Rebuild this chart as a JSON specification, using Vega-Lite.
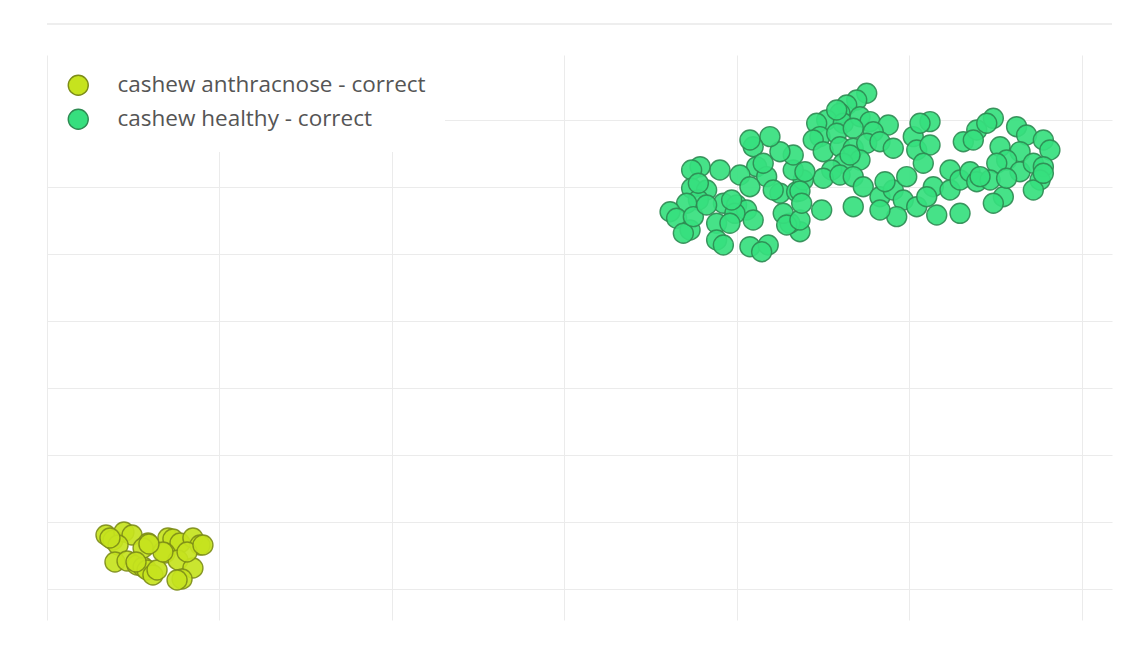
{
  "$schema": "https://vega.github.io/schema/vega-lite/v6.json",
  "width": 1065,
  "height": 565,
  "autosize": {"type": "none"},
  "padding": {"left": 47, "top": 55, "right": 10, "bottom": 40},
  "background": "white",
  "config": {"view": {"stroke": null}},
  "data": {"values": [
    {"x": 3.42, "y": 8.06, "label": "cashew anthracnose - correct"},
    {"x": 3.83, "y": 7.31, "label": "cashew anthracnose - correct"},
    {"x": 4.46, "y": 8.51, "label": "cashew anthracnose - correct"},
    {"x": 4.93, "y": 8.06, "label": "cashew anthracnose - correct"},
    {"x": 4.12, "y": 6.57, "label": "cashew anthracnose - correct"},
    {"x": 3.94, "y": 4.03, "label": "cashew anthracnose - correct"},
    {"x": 4.64, "y": 4.18, "label": "cashew anthracnose - correct"},
    {"x": 5.22, "y": 3.58, "label": "cashew anthracnose - correct"},
    {"x": 5.57, "y": 3.28, "label": "cashew anthracnose - correct"},
    {"x": 5.86, "y": 6.87, "label": "cashew anthracnose - correct"},
    {"x": 5.80, "y": 2.84, "label": "cashew anthracnose - correct"},
    {"x": 6.14, "y": 2.09, "label": "cashew anthracnose - correct"},
    {"x": 7.01, "y": 7.61, "label": "cashew anthracnose - correct"},
    {"x": 7.30, "y": 7.46, "label": "cashew anthracnose - correct"},
    {"x": 7.71, "y": 6.87, "label": "cashew anthracnose - correct"},
    {"x": 6.84, "y": 5.37, "label": "cashew anthracnose - correct"},
    {"x": 7.59, "y": 4.33, "label": "cashew anthracnose - correct"},
    {"x": 8.46, "y": 7.61, "label": "cashew anthracnose - correct"},
    {"x": 8.87, "y": 6.57, "label": "cashew anthracnose - correct"},
    {"x": 8.46, "y": 3.13, "label": "cashew anthracnose - correct"},
    {"x": 7.83, "y": 1.49, "label": "cashew anthracnose - correct"},
    {"x": 6.38, "y": 2.84, "label": "cashew anthracnose - correct"},
    {"x": 5.57, "y": 6.12, "label": "cashew anthracnose - correct"},
    {"x": 8.12, "y": 5.52, "label": "cashew anthracnose - correct"},
    {"x": 9.04, "y": 6.57, "label": "cashew anthracnose - correct"},
    {"x": 6.72, "y": 5.52, "label": "cashew anthracnose - correct"},
    {"x": 5.91, "y": 6.72, "label": "cashew anthracnose - correct"},
    {"x": 5.16, "y": 4.03, "label": "cashew anthracnose - correct"},
    {"x": 7.54, "y": 1.34, "label": "cashew anthracnose - correct"},
    {"x": 3.65, "y": 7.61, "label": "cashew anthracnose - correct"},
    {"x": 47.52, "y": 73.99, "label": "cashew healthy - correct"},
    {"x": 46.94, "y": 72.99, "label": "cashew healthy - correct"},
    {"x": 46.36, "y": 72.24, "label": "cashew healthy - correct"},
    {"x": 45.97, "y": 71.00, "label": "cashew healthy - correct"},
    {"x": 45.20, "y": 70.00, "label": "cashew healthy - correct"},
    {"x": 44.62, "y": 69.51, "label": "cashew healthy - correct"},
    {"x": 46.16, "y": 69.51, "label": "cashew healthy - correct"},
    {"x": 47.13, "y": 70.49, "label": "cashew healthy - correct"},
    {"x": 47.71, "y": 69.75, "label": "cashew healthy - correct"},
    {"x": 48.77, "y": 69.25, "label": "cashew healthy - correct"},
    {"x": 44.81, "y": 67.51, "label": "cashew healthy - correct"},
    {"x": 45.78, "y": 68.01, "label": "cashew healthy - correct"},
    {"x": 46.74, "y": 68.76, "label": "cashew healthy - correct"},
    {"x": 47.90, "y": 68.25, "label": "cashew healthy - correct"},
    {"x": 44.42, "y": 67.01, "label": "cashew healthy - correct"},
    {"x": 45.00, "y": 65.27, "label": "cashew healthy - correct"},
    {"x": 45.97, "y": 66.01, "label": "cashew healthy - correct"},
    {"x": 46.74, "y": 65.78, "label": "cashew healthy - correct"},
    {"x": 47.52, "y": 66.52, "label": "cashew healthy - correct"},
    {"x": 48.29, "y": 66.76, "label": "cashew healthy - correct"},
    {"x": 49.06, "y": 65.78, "label": "cashew healthy - correct"},
    {"x": 47.13, "y": 64.03, "label": "cashew healthy - correct"},
    {"x": 46.16, "y": 63.54, "label": "cashew healthy - correct"},
    {"x": 45.49, "y": 62.54, "label": "cashew healthy - correct"},
    {"x": 45.00, "y": 61.30, "label": "cashew healthy - correct"},
    {"x": 45.97, "y": 61.79, "label": "cashew healthy - correct"},
    {"x": 46.74, "y": 61.54, "label": "cashew healthy - correct"},
    {"x": 47.32, "y": 60.04, "label": "cashew healthy - correct"},
    {"x": 48.29, "y": 58.55, "label": "cashew healthy - correct"},
    {"x": 49.06, "y": 59.55, "label": "cashew healthy - correct"},
    {"x": 49.84, "y": 61.54, "label": "cashew healthy - correct"},
    {"x": 49.64, "y": 58.06, "label": "cashew healthy - correct"},
    {"x": 50.42, "y": 57.06, "label": "cashew healthy - correct"},
    {"x": 49.26, "y": 55.57, "label": "cashew healthy - correct"},
    {"x": 48.29, "y": 56.57, "label": "cashew healthy - correct"},
    {"x": 46.74, "y": 57.06, "label": "cashew healthy - correct"},
    {"x": 44.91, "y": 56.57, "label": "cashew healthy - correct"},
    {"x": 43.65, "y": 53.33, "label": "cashew healthy - correct"},
    {"x": 43.07, "y": 54.58, "label": "cashew healthy - correct"},
    {"x": 42.68, "y": 56.07, "label": "cashew healthy - correct"},
    {"x": 42.49, "y": 59.06, "label": "cashew healthy - correct"},
    {"x": 43.46, "y": 59.30, "label": "cashew healthy - correct"},
    {"x": 43.84, "y": 61.04, "label": "cashew healthy - correct"},
    {"x": 43.26, "y": 62.54, "label": "cashew healthy - correct"},
    {"x": 43.26, "y": 64.78, "label": "cashew healthy - correct"},
    {"x": 42.49, "y": 65.27, "label": "cashew healthy - correct"},
    {"x": 41.91, "y": 67.51, "label": "cashew healthy - correct"},
    {"x": 40.94, "y": 66.01, "label": "cashew healthy - correct"},
    {"x": 40.75, "y": 67.01, "label": "cashew healthy - correct"},
    {"x": 41.14, "y": 63.03, "label": "cashew healthy - correct"},
    {"x": 41.72, "y": 61.54, "label": "cashew healthy - correct"},
    {"x": 40.17, "y": 61.79, "label": "cashew healthy - correct"},
    {"x": 40.75, "y": 60.04, "label": "cashew healthy - correct"},
    {"x": 42.10, "y": 59.55, "label": "cashew healthy - correct"},
    {"x": 41.52, "y": 63.54, "label": "cashew healthy - correct"},
    {"x": 39.01, "y": 62.54, "label": "cashew healthy - correct"},
    {"x": 37.86, "y": 63.03, "label": "cashew healthy - correct"},
    {"x": 37.37, "y": 62.54, "label": "cashew healthy - correct"},
    {"x": 37.37, "y": 59.81, "label": "cashew healthy - correct"},
    {"x": 38.24, "y": 59.55, "label": "cashew healthy - correct"},
    {"x": 37.76, "y": 58.06, "label": "cashew healthy - correct"},
    {"x": 37.08, "y": 57.57, "label": "cashew healthy - correct"},
    {"x": 36.12, "y": 56.31, "label": "cashew healthy - correct"},
    {"x": 36.50, "y": 55.33, "label": "cashew healthy - correct"},
    {"x": 37.28, "y": 53.58, "label": "cashew healthy - correct"},
    {"x": 36.89, "y": 53.09, "label": "cashew healthy - correct"},
    {"x": 37.47, "y": 55.57, "label": "cashew healthy - correct"},
    {"x": 38.82, "y": 54.58, "label": "cashew healthy - correct"},
    {"x": 39.21, "y": 57.57, "label": "cashew healthy - correct"},
    {"x": 38.24, "y": 57.31, "label": "cashew healthy - correct"},
    {"x": 39.98, "y": 57.31, "label": "cashew healthy - correct"},
    {"x": 40.56, "y": 56.57, "label": "cashew healthy - correct"},
    {"x": 40.94, "y": 55.07, "label": "cashew healthy - correct"},
    {"x": 39.88, "y": 56.07, "label": "cashew healthy - correct"},
    {"x": 39.59, "y": 54.58, "label": "cashew healthy - correct"},
    {"x": 38.82, "y": 52.09, "label": "cashew healthy - correct"},
    {"x": 39.21, "y": 51.34, "label": "cashew healthy - correct"},
    {"x": 40.75, "y": 51.09, "label": "cashew healthy - correct"},
    {"x": 41.81, "y": 51.34, "label": "cashew healthy - correct"},
    {"x": 42.88, "y": 54.33, "label": "cashew healthy - correct"},
    {"x": 43.65, "y": 55.07, "label": "cashew healthy - correct"},
    {"x": 43.65, "y": 59.40, "label": "cashew healthy - correct"},
    {"x": 50.22, "y": 67.51, "label": "cashew healthy - correct"},
    {"x": 51.19, "y": 69.75, "label": "cashew healthy - correct"},
    {"x": 50.61, "y": 69.51, "label": "cashew healthy - correct"},
    {"x": 50.42, "y": 65.52, "label": "cashew healthy - correct"},
    {"x": 51.19, "y": 66.27, "label": "cashew healthy - correct"},
    {"x": 50.80, "y": 63.54, "label": "cashew healthy - correct"},
    {"x": 51.38, "y": 60.04, "label": "cashew healthy - correct"},
    {"x": 52.35, "y": 62.54, "label": "cashew healthy - correct"},
    {"x": 52.35, "y": 59.55, "label": "cashew healthy - correct"},
    {"x": 52.93, "y": 61.04, "label": "cashew healthy - correct"},
    {"x": 53.51, "y": 62.28, "label": "cashew healthy - correct"},
    {"x": 53.90, "y": 60.79, "label": "cashew healthy - correct"},
    {"x": 53.12, "y": 66.76, "label": "cashew healthy - correct"},
    {"x": 53.90, "y": 68.51, "label": "cashew healthy - correct"},
    {"x": 54.86, "y": 70.25, "label": "cashew healthy - correct"},
    {"x": 54.48, "y": 69.51, "label": "cashew healthy - correct"},
    {"x": 53.70, "y": 67.01, "label": "cashew healthy - correct"},
    {"x": 55.25, "y": 66.01, "label": "cashew healthy - correct"},
    {"x": 56.21, "y": 69.00, "label": "cashew healthy - correct"},
    {"x": 56.79, "y": 67.76, "label": "cashew healthy - correct"},
    {"x": 57.76, "y": 67.01, "label": "cashew healthy - correct"},
    {"x": 58.14, "y": 65.52, "label": "cashew healthy - correct"},
    {"x": 56.41, "y": 65.27, "label": "cashew healthy - correct"},
    {"x": 55.63, "y": 64.03, "label": "cashew healthy - correct"},
    {"x": 55.06, "y": 63.54, "label": "cashew healthy - correct"},
    {"x": 56.41, "y": 62.28, "label": "cashew healthy - correct"},
    {"x": 57.18, "y": 63.54, "label": "cashew healthy - correct"},
    {"x": 57.76, "y": 63.03, "label": "cashew healthy - correct"},
    {"x": 57.57, "y": 61.04, "label": "cashew healthy - correct"},
    {"x": 57.18, "y": 59.55, "label": "cashew healthy - correct"},
    {"x": 55.44, "y": 58.55, "label": "cashew healthy - correct"},
    {"x": 54.86, "y": 57.57, "label": "cashew healthy - correct"},
    {"x": 52.93, "y": 56.07, "label": "cashew healthy - correct"},
    {"x": 51.58, "y": 55.82, "label": "cashew healthy - correct"},
    {"x": 54.67, "y": 61.04, "label": "cashew healthy - correct"},
    {"x": 54.09, "y": 61.54, "label": "cashew healthy - correct"},
    {"x": 41.43, "y": 50.34, "label": "cashew healthy - correct"},
    {"x": 39.69, "y": 58.06, "label": "cashew healthy - correct"},
    {"x": 37.76, "y": 60.55, "label": "cashew healthy - correct"},
    {"x": 43.94, "y": 62.28, "label": "cashew healthy - correct"},
    {"x": 45.78, "y": 71.49, "label": "cashew healthy - correct"},
    {"x": 46.55, "y": 64.78, "label": "cashew healthy - correct"},
    {"x": 48.58, "y": 60.79, "label": "cashew healthy - correct"},
    {"x": 51.00, "y": 58.55, "label": "cashew healthy - correct"},
    {"x": 43.75, "y": 57.57, "label": "cashew healthy - correct"},
    {"x": 57.76, "y": 62.04, "label": "cashew healthy - correct"},
    {"x": 55.63, "y": 61.30, "label": "cashew healthy - correct"}
  ]},
  "layer": [
    {
      "mark": {"type": "rule", "color": "#eeeeee", "strokeWidth": 1, "clip": false},
      "encoding": {"y": {"datum": 84.33}}
    },
    {
      "mark": {"type": "point", "shape": "circle", "filled": true, "size": 400, "fillOpacity": 0.92, "strokeWidth": 1.4, "strokeOpacity": 0.9},
      "encoding": {
        "x": {"field": "x", "type": "quantitative",
          "scale": {"domain": [0, 61.74], "nice": false, "zero": false},
          "axis": {"title": null, "labels": false, "ticks": false, "domain": false, "grid": true, "values": [0, 10, 20, 30, 40, 50, 60], "gridColor": "#ebebeb", "gridWidth": 1}},
        "y": {"field": "y", "type": "quantitative",
          "scale": {"domain": [-4.63, 79.7], "nice": false, "zero": false},
          "axis": {"title": null, "labels": false, "ticks": false, "domain": false, "grid": true, "values": [0, 10, 20, 30, 40, 50, 60, 70], "gridColor": "#ebebeb", "gridWidth": 1}},
        "fill": {"field": "label", "type": "nominal",
          "scale": {"domain": ["cashew anthracnose - correct", "cashew healthy - correct"], "range": ["#c6e31e", "#36df7e"]},
          "legend": {"title": null, "orient": "none", "legendX": 1, "legendY": 0, "padding": 19, "fillColor": "white", "symbolSize": 400, "symbolType": "circle", "symbolStrokeWidth": 1.4, "labelFont": "Open Sans", "labelFontSize": 22.5, "labelColor": "#555555", "labelOffset": 28, "rowPadding": 7, "labelLimit": 600}},
        "stroke": {"field": "label", "type": "nominal",
          "scale": {"domain": ["cashew anthracnose - correct", "cashew healthy - correct"], "range": ["#7c8c17", "#2e8a52"]},
          "legend": null}
      }
    }
  ]
}
